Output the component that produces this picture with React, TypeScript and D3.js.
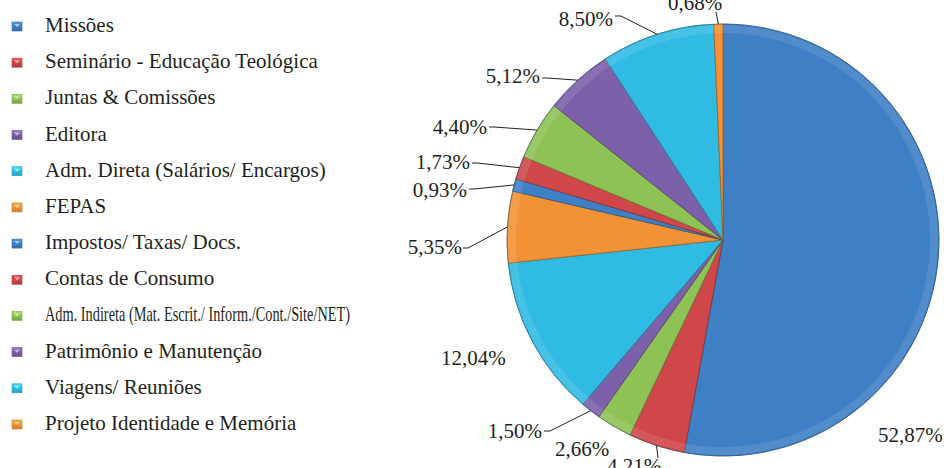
import React from "react";
import * as d3 from "d3";

const categories = [
  "Missões",
  "Seminário - Educação Teológica",
  "Juntas & Comissões",
  "Editora",
  "Adm. Direta (Salários/ Encargos)",
  "FEPAS",
  "Impostos/ Taxas/ Docs.",
  "Contas de Consumo",
  "Adm. Indireta (Mat. Escrit./ Inform./Cont./Site/NET)",
  "Patrimônio e Manutenção",
  "Viagens/ Reuniões",
  "Projeto Identidade e Memória",
];

const values = [52.87, 4.21, 2.66, 1.5, 12.04, 5.35, 0.93, 1.73, 4.4, 5.12, 8.5, 0.68];

const palette = ["#3F7FC5", "#D0474A", "#8FC255", "#7D60AA", "#30BCE2", "#F29236"];

// label layout: text x (anchor edge), baseline y, anchor, optional leader start & elbow
const labelLayout: { x: number; y: number; anchor: string; line?: [number, number]; elbow?: number }[] = [
  { x: 878, y: 442, anchor: "start" },
  { x: 607, y: 473, anchor: "start", line: [658, 458] },
  { x: 555, y: 456, anchor: "start" },
  { x: 542, y: 438, anchor: "end", line: [544, 431], elbow: 6 },
  { x: 441, y: 365, anchor: "start" },
  { x: 462, y: 254, anchor: "end", line: [463, 248], elbow: 5 },
  { x: 467, y: 197, anchor: "end", line: [469, 189], elbow: 5 },
  { x: 470, y: 169, anchor: "end", line: [472, 163], elbow: 5 },
  { x: 487, y: 134, anchor: "end", line: [489, 127], elbow: 5 },
  { x: 540, y: 83, anchor: "end", line: [542, 78], elbow: 5 },
  { x: 613, y: 26, anchor: "end", line: [615, 16], elbow: 6 },
  { x: 668, y: 10, anchor: "start", line: [716, 12] },
];

const W = 944;
const H = 468;
const cx = 723;
const cy = 240;
const R = 216;

const fmt = (v: number) => d3.format(".2f")(v).replace(".", ",") + "%";

export default function App() {
  const pie = d3.pie<number>().sort(null).value((d) => d);
  const arcs = pie(values);
  const arcGen = d3.arc<d3.PieArcDatum<number>>().innerRadius(0).outerRadius(R);
  const rimGen = d3.arc<d3.PieArcDatum<number>>().innerRadius(R - 9).outerRadius(R - 1);
  const color = (i: number) => palette[i % palette.length];
  const edgePoint = (a: d3.PieArcDatum<number>) => {
    const m = (a.startAngle + a.endAngle) / 2;
    return [cx + R * Math.sin(m), cy - R * Math.cos(m)];
  };
  const legendY = d3.scalePoint<number>().domain(d3.range(categories.length)).range([32, 430]);
  const font = "'Liberation Serif', 'Times New Roman', serif";

  return (
    <svg width={W} height={H} style={{ position: "absolute", left: 0, top: 0, background: "#fff" }}>
      <defs>
        {palette.map((c, i) => (
          <linearGradient key={i} id={`lg${i}`} x1="0" y1="0" x2="0" y2="1">
            <stop offset="0" stopColor={d3.color(c)!.brighter(0.5).toString()} />
            <stop offset="0.5" stopColor={c} />
            <stop offset="1" stopColor={d3.color(c)!.darker(0.5).toString()} />
          </linearGradient>
        ))}
        <radialGradient id="shade" cx={cx} cy={cy} r={R} gradientUnits="userSpaceOnUse">
          <stop offset="0" stopColor="#000" stopOpacity="0.06" />
          <stop offset="0.8" stopColor="#000" stopOpacity="0" />
          <stop offset="1" stopColor="#000" stopOpacity="0.08" />
        </radialGradient>
      </defs>

      {/* Legend */}
      {categories.map((c, i) => {
        const y = legendY(i)!;
        const isCondensed = i === 8;
        return (
          <g key={c}>
            <rect x={12} y={y - 10} width={10} height={9} fill={`url(#lg${i % palette.length})`} stroke={d3.color(color(i))!.darker(0.4).toString()} strokeWidth={0.6} />
            <path d={`M${14},${y - 8} L${20},${y - 8} L${17},${y - 5} Z`} fill="#fff" opacity={0.55} />
            <text
              x={45}
              y={y}
              fontFamily={font}
              fontSize={21}
              fill="#231f20"
              {...(isCondensed ? { textLength: 305, lengthAdjust: "spacingAndGlyphs" } : {})}
            >
              {c}
            </text>
          </g>
        );
      })}

      {/* Pie */}
      <g transform={`translate(${cx},${cy})`}>
        {arcs.map((a, i) => (
          <path key={i} d={arcGen(a)!} fill={color(i)} stroke={d3.color(color(i))!.darker(1.2).toString()} strokeWidth={0.8} strokeLinejoin="round" />
        ))}
        {arcs.map((a, i) => (
          <path key={`r${i}`} d={rimGen(a)!} fill="#fff" opacity={0.1} />
        ))}
        <circle r={R} fill="url(#shade)" transform={`translate(${-cx},${-cy})`} style={{ display: "none" }} />
        <circle r={R} fill="none" stroke={d3.color(palette[0])!.darker(0.8).toString()} strokeWidth={0.6} opacity={0.6} />
      </g>

      {/* Labels */}
      {arcs.map((a, i) => {
        const L = labelLayout[i];
        const [ex, ey] = edgePoint(a);
        let pts: [number, number][] = [];
        if (L.line) {
          pts.push(L.line);
          if (L.elbow) pts.push([L.line[0] + L.elbow, L.line[1]]);
          pts.push([ex, ey]);
        }
        return (
          <g key={`l${i}`}>
            {pts.length > 0 && (
              <path d={d3.line()(pts)!} fill="none" stroke="#231f20" strokeWidth={1} />
            )}
            <text x={L.x} y={L.y} textAnchor={L.anchor} fontFamily={font} fontSize={21} fill="#231f20">
              {fmt(values[i])}
            </text>
          </g>
        );
      })}
    </svg>
  );
}
